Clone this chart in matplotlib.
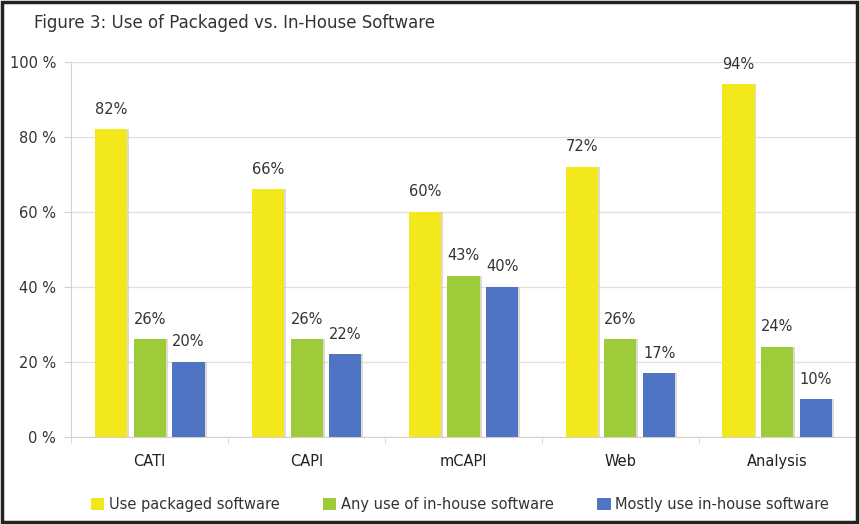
import numpy as np
import matplotlib.pyplot as plt
from matplotlib.patches import Rectangle

categories = ['CATI', 'CAPI', 'mCAPI', 'Web', 'Analysis']
packaged = [82, 66, 60, 72, 94]
any_inhouse = [26, 26, 43, 26, 24]
mostly_inhouse = [20, 22, 40, 17, 10]
series_names = ['Use packaged software', 'Any use of in-house software',
                'Mostly use in-house software']
colors = ['#F3E81C', '#9DCB3A', '#4F74C4']

fig = plt.figure(figsize=(8.6, 5.24), dpi=100)
ax = fig.add_axes([0.083, 0.166, 0.912, 0.716])

x = np.arange(len(categories))
step = 0.247
width = 0.205
for i, (vals, col, name) in enumerate(zip([packaged, any_inhouse, mostly_inhouse],
                                          colors, series_names)):
    pos = x + (i - 1) * step
    # soft shadow to the right of each bar
    ax.bar(pos + 0.012, vals, width, color='#c9c2b8', alpha=0.6, zorder=2)
    ax.bar(pos, vals, width, color=col, label=name, zorder=3)
    for px, v in zip(pos, vals):
        ax.annotate(f'{v}%', (px, v), xytext=(0, 9), textcoords='offset points',
                    ha='center', va='bottom', fontsize=10.5, color='#333333')

ax.set_xlim(-0.5, len(categories) - 0.5)
ax.set_ylim(0, 100)
ax.set_yticks(range(0, 101, 20))
ax.set_yticklabels([f'{t} %' for t in range(0, 101, 20)], fontsize=10.5,
                   color='#333333')
ax.set_xticks(x)
ax.set_xticklabels(categories, fontsize=10.5, color='#222222')
ax.tick_params(axis='x', length=0, pad=12)
ax.tick_params(axis='y', length=5, color='#d8cfc8', pad=6)
ax.set_xticks(np.arange(len(categories) + 1) - 0.5, minor=True)
ax.tick_params(axis='x', which='minor', length=4, color='#d8cfc8')
ax.grid(axis='y', color='#e6ded8', linewidth=0.9, zorder=0)
for side in ['top', 'right']:
    ax.spines[side].set_visible(False)
for side in ['left', 'bottom']:
    ax.spines[side].set_color('#d8cfc8')

fig.text(0.04, 0.957, 'Figure 3: Use of Packaged vs. In-House Software',
         fontsize=12, color='#333333', va='center')

fig.legend(loc='center', bbox_to_anchor=(0.535, 0.037), ncol=3, frameon=False,
           fontsize=10.5, handlelength=0.9, handleheight=0.9, handletextpad=0.3,
           columnspacing=3.0, labelcolor='#333333')

# dark frame round the whole figure
fig.patches.append(Rectangle((0.002, 0.003), 0.994, 0.994, transform=fig.transFigure,
                             fill=False, edgecolor='#222222', linewidth=2.5))

fig.savefig('out.png', dpi=100)
